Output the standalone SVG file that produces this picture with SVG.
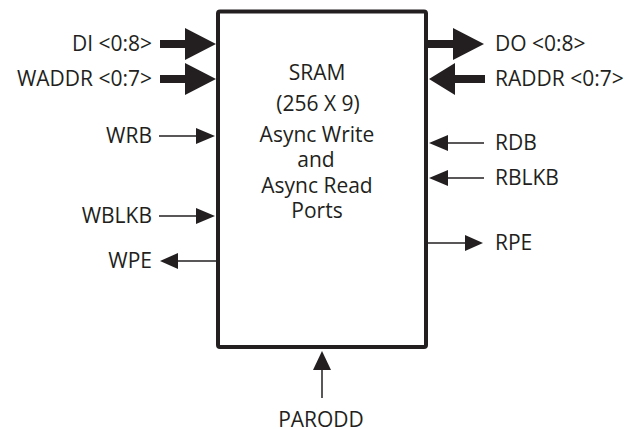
<svg xmlns="http://www.w3.org/2000/svg" width="628" height="429" viewBox="0 0 628 429">
<style>
text{font-family:"Open Sans","Noto Sans","Liberation Sans",sans-serif;font-size:21px;fill:#231f20}
.l{text-anchor:end}
.c{text-anchor:middle}
.box{fill:#fff;stroke:#231f20;stroke-width:4}
.thin{stroke:#231f20;stroke-width:1.5;fill:none}
.head{fill:#231f20;stroke:none}
</style>
<rect width="628" height="429" fill="#fff"/>
<g id="sram">
<rect class="box" x="218" y="11.5" width="208" height="335.5" rx="2"/>
<text class="c" x="317" y="80">SRAM</text>
<text class="c" x="318" y="111">(256 X 9)</text>
<text class="c" x="317" y="142">Async Write</text>
<text class="c" x="316" y="167">and</text>
<text class="c" x="317" y="193">Async Read</text>
<text class="c" x="317" y="218">Ports</text>
</g>
<g id="connectors">
<rect class="head" x="160" y="40" width="26" height="8"/>
<polygon class="head" points="185,28 216,44 185,60"/>
<rect class="head" x="160" y="75" width="26" height="8"/>
<polygon class="head" points="185,63 216,79 185,95"/>
<line class="thin" x1="159" y1="136" x2="198" y2="136"/>
<polygon class="head" points="196,128 215,136 196,144"/>
<line class="thin" x1="159" y1="216" x2="198" y2="216"/>
<polygon class="head" points="196,208 215,216 196,224"/>
<line class="thin" x1="176" y1="261" x2="217" y2="261"/>
<polygon class="head" points="178,253 160,261 178,269"/>
<rect class="head" x="427" y="40" width="28" height="8"/>
<polygon class="head" points="453,28 484,44 453,60"/>
<rect class="head" x="453" y="75" width="32" height="8"/>
<polygon class="head" points="455,63 429,79 455,95"/>
<line class="thin" x1="446" y1="143" x2="484" y2="143"/>
<polygon class="head" points="448,135 429,143 448,151"/>
<line class="thin" x1="446" y1="178" x2="484" y2="178"/>
<polygon class="head" points="448,170 429,178 448,186"/>
<line class="thin" x1="427" y1="243" x2="467" y2="243"/>
<polygon class="head" points="465,235 483,243 465,251"/>
<line class="thin" x1="322" y1="368" x2="322" y2="398"/>
<polygon class="head" points="313,370 322,351 331,370"/>
</g>
<g id="DI"><text class="l" x="152" y="51">DI &lt;0:8&gt;</text></g>
<g id="WADDR"><text class="l" x="152" y="86">WADDR &lt;0:7&gt;</text></g>
<g id="WRB"><text class="l" x="152" y="143">WRB</text></g>
<g id="WBLKB"><text class="l" x="152" y="223">WBLKB</text></g>
<g id="WPE"><text class="l" x="152" y="268">WPE</text></g>
<g id="DO"><text x="495" y="51">DO &lt;0:8&gt;</text></g>
<g id="RADDR"><text x="495" y="86">RADDR &lt;0:7&gt;</text></g>
<g id="RDB"><text x="495" y="150">RDB</text></g>
<g id="RBLKB"><text x="495" y="185">RBLKB</text></g>
<g id="RPE"><text x="495" y="250">RPE</text></g>
<g id="PARODD"><text class="c" x="321" y="427">PARODD</text></g>
</svg>
